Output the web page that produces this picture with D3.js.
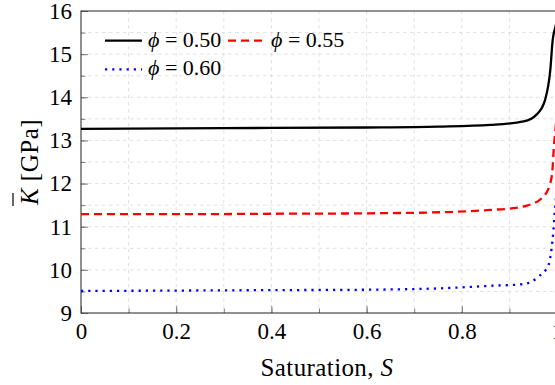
<!DOCTYPE html>
<html>
<head>
<meta charset="utf-8">
<script src="https://cdn.jsdelivr.net/npm/d3@7"></script>
<style>
  body { margin: 0; background: #fff; }
</style>
</head>
<body>
<div id="fig"></div>
<script>
const fig_width = 555
const fig_height = 385
const serif = 'Liberation Serif'

// saturation values and bulk modulus (GPa)
const sat_050 = [0, 0.2, 0.4, 0.6, 0.75, 0.86, 0.93, 0.958, 0.975, 0.986, 0.991, 0.9935, 0.996, 1]
const k_050   = [13.27, 13.28, 13.29, 13.30, 13.32, 13.36, 13.44, 13.61, 13.94, 14.64, 15.33, 15.5, 15.6, 15.8]
const sat_055 = [0, 0.2, 0.4, 0.6, 0.77, 0.86, 0.908, 0.937, 0.968, 0.986, 0.991, 0.993, 0.996, 1]
const k_055   = [11.29, 11.29, 11.30, 11.31, 11.34, 11.39, 11.43, 11.49, 11.66, 12.01, 12.40, 12.78, 13.17, 13.6]
const sat_060 = [0, 0.2, 0.4, 0.6, 0.75, 0.86, 0.93, 0.961, 0.982, 0.989, 0.9926, 0.996, 1]
const k_060   = [9.51, 9.52, 9.53, 9.54, 9.57, 9.63, 9.67, 9.84, 10.11, 10.53, 10.92, 11.45, 11.9]

const series_phi = ['0.50', '0.55', '0.60']

const x_ticks = [0, 0.2, 0.4, 0.6, 0.8, 1]
const y_ticks = [9, 10, 11, 12, 13, 14, 15, 16]

let margin = {left: 81, top: 11, right: 557, bottom: 313}

let x = d3.scaleLinear().domain([0, 1]).range([margin.left, margin.right])
let y = d3.scaleLinear().domain([9, 16]).range([margin.bottom, margin.top])

let fig = d3.select('#fig')
    .append('svg')
    .attr('width', fig_width)
    .attr('height', fig_height)
    .attr('font-family', serif)

fig.append('defs').append('clipPath').attr('id', 'plotclip')
    .append('rect')
    .attr('x', margin.left).attr('y', margin.top)
    .attr('width', margin.right - margin.left).attr('height', margin.bottom - margin.top)

// dashed grid on every minor tick
let x_grid = d3.range(1, 10).map(i => i / 10)
let y_grid = d3.range(1, 14).map(i => 9 + i / 2)

fig.append('g').selectAll('line')
    .data(x_grid)
    .join('line')
    .attr('x1', d => x(d)).attr('x2', d => x(d))
    .attr('y1', margin.top).attr('y2', margin.bottom)
    .attr('stroke', '#d9d9d9').attr('stroke-width', 0.8)
    .attr('stroke-dasharray', '3.5,3.5')

fig.append('g').selectAll('line')
    .data(y_grid)
    .join('line')
    .attr('y1', d => y(d)).attr('y2', d => y(d))
    .attr('x1', margin.left).attr('x2', margin.right)
    .attr('stroke', '#d9d9d9').attr('stroke-width', 0.8)
    .attr('stroke-dasharray', '3.5,3.5')

// inward ticks, bottom and left
let xAxis = d3.axisBottom(x).tickValues(x_grid).tickSize(-4.5).tickFormat('')
fig.append('g').attr('transform', `translate(0,${margin.bottom})`).call(xAxis)
let xMajor = d3.axisBottom(x).tickValues(x_ticks).tickSize(-7).tickPadding(10)
    .tickFormat(d3.format('~g'))
fig.append('g').attr('transform', `translate(0,${margin.bottom})`).call(xMajor)

let yAxis = d3.axisLeft(y).tickValues(y_grid).tickSize(-4.5).tickFormat('')
fig.append('g').attr('transform', `translate(${margin.left},0)`).call(yAxis)
let yMajor = d3.axisLeft(y).tickValues(y_ticks).tickSize(-7).tickPadding(9)
    .tickFormat(d3.format('d'))
fig.append('g').attr('transform', `translate(${margin.left},0)`).call(yMajor)

fig.selectAll('.domain').remove()
fig.selectAll('g').attr('font-family', serif)
fig.selectAll('.tick line').attr('stroke', '#808080').attr('stroke-width', 1)
fig.selectAll('.tick text')
    .attr('fill', '#000')
    .attr('font-family', serif)
    .attr('font-size', 23)

// frame
fig.append('rect')
    .attr('x', margin.left).attr('y', margin.top)
    .attr('width', margin.right - margin.left).attr('height', margin.bottom - margin.top)
    .attr('fill', 'none').attr('stroke', '#222').attr('stroke-width', 1)

// curves
let line = d3.line().x(d => x(d[0])).y(d => y(d[1])).curve(d3.curveMonotoneX)
let curves = [
    {pts: d3.zip(sat_050, k_050), color: '#000', dash: null},
    {pts: d3.zip(sat_055, k_055), color: '#ff0000', dash: '8,5'},
    {pts: d3.zip(sat_060, k_060), color: '#0000ff', dash: '2.2,5'}
]
fig.append('g').attr('clip-path', 'url(#plotclip)')
    .selectAll('path')
    .data(curves)
    .join('path')
    .attr('d', d => line(d.pts))
    .attr('fill', 'none')
    .attr('stroke', d => d.color)
    .attr('stroke-width', 2.3)
    .attr('stroke-dasharray', d => d.dash)

// legend
let legend_pos = [[105, 40.7], [228, 40.7], [105, 69.3]]
let legend = fig.append('g').selectAll('g')
    .data(curves)
    .join('g')
    .attr('transform', (d, i) => `translate(${legend_pos[i][0]},${legend_pos[i][1]})`)
legend.append('line')
    .attr('x1', 0).attr('x2', 37)
    .attr('stroke', d => d.color)
    .attr('stroke-width', 2.3)
    .attr('stroke-dasharray', d => d.dash)
legend.append('text')
    .attr('x', 43).attr('y', 6)
    .attr('font-family', serif)
    .attr('font-size', 22)
    .html((d, i) => `<tspan font-style="italic">\u03d5</tspan> = ${series_phi[i]}`)

// axis labels
fig.append('text')
    .attr('x', 327).attr('y', 376)
    .attr('text-anchor', 'middle')
    .attr('font-family', serif)
    .attr('font-size', 25)
    .attr('letter-spacing', 0.4)
    .html('Saturation, <tspan font-style="italic">S</tspan>')

let ylab = fig.append('g').attr('transform', 'translate(38,162) rotate(-90)')
ylab.append('text')
    .attr('text-anchor', 'middle')
    .attr('font-family', serif)
    .attr('font-size', 25)
    .attr('letter-spacing', 0.5)
    .html('<tspan font-style="italic">K</tspan> [GPa]')
// overline over K
ylab.append('line')
    .attr('x1', -44).attr('x2', -31)
    .attr('y1', -25).attr('y2', -25)
    .attr('stroke', '#000').attr('stroke-width', 1.2)
</script>
</body>
</html>
